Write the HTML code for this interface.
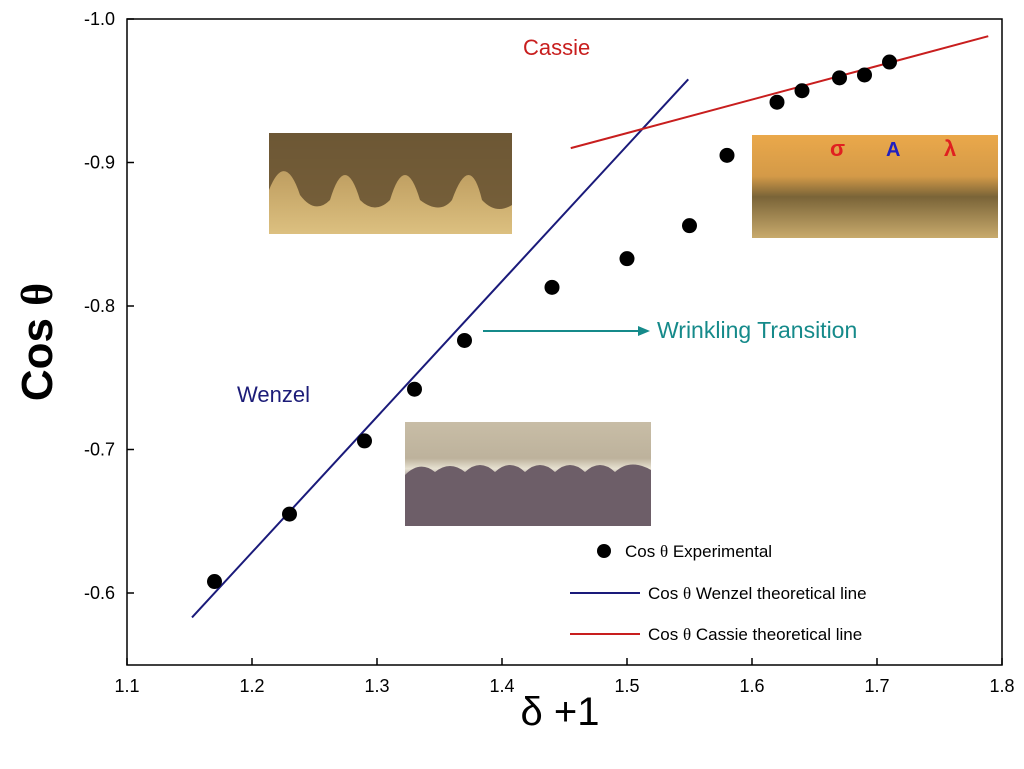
<!DOCTYPE html>
<html><head><meta charset="utf-8"><style>
body{margin:0;background:#fff;width:1024px;height:764px;overflow:hidden}
svg text{font-family:"Liberation Sans",sans-serif}
</style></head><body>
<svg id="chart" width="1024" height="764" xmlns="http://www.w3.org/2000/svg">
<defs>
<linearGradient id="g1" x1="0" y1="0" x2="0" y2="1"><stop offset="0" stop-color="#a88c5a"/><stop offset="0.5" stop-color="#c4a466"/><stop offset="1" stop-color="#dcc080"/></linearGradient>
<linearGradient id="g2" x1="0" y1="0" x2="0" y2="1"><stop offset="0" stop-color="#eaa84a"/><stop offset="0.4" stop-color="#d49a48"/><stop offset="0.6" stop-color="#7a6438"/><stop offset="1" stop-color="#c8aa6c"/></linearGradient>
<linearGradient id="g3" x1="0" y1="0" x2="0" y2="1"><stop offset="0" stop-color="#c8bda6"/><stop offset="0.35" stop-color="#bdb29c"/><stop offset="0.45" stop-color="#e8e2d2"/><stop offset="0.6" stop-color="#6b5a66"/><stop offset="1" stop-color="#8a7a80"/></linearGradient>
</defs>
<g id="axes"></g>
<g id="marks"></g>
<g>
<rect x="269" y="133" width="243" height="101" fill="url(#g1)"/>
<path d="M269,133 H512 V205 Q496,215 482,200 Q470,150 452,200 Q440,215 420,200 Q405,150 390,200 Q375,215 360,200 Q345,150 330,200 Q315,215 300,195 Q285,150 269,190 Z" fill="#5e4a2c" opacity="0.8"/>
</g>
<g>
<rect x="752" y="135" width="246" height="103" fill="url(#g2)"/>
</g>
<g>
<rect x="405" y="422" width="246" height="104" fill="url(#g3)"/>
<path d="M405,475 Q420,460 435,472 Q450,460 465,472 Q480,458 495,472 Q510,458 525,472 Q540,458 555,472 Q570,458 585,472 Q600,458 615,472 Q630,458 651,470 V526 H405 Z" fill="#6d5e68"/>
</g>
<text x="830" y="156" fill="#e02020" font-size="22" font-weight="bold" font-family="Liberation Serif,serif">σ</text>
<text x="886" y="156" fill="#2020c0" font-size="20" font-weight="bold" font-family="Liberation Serif,serif">A</text>
<text x="944" y="156" fill="#e02020" font-size="22" font-weight="bold" font-family="Liberation Serif,serif">λ</text>
<text x="523" y="55" fill="#c81e1e" font-size="22">Cassie</text>
<text x="237" y="402" fill="#1c1c78" font-size="22">Wenzel</text>
<line x1="483" y1="331" x2="640" y2="331" stroke="#158a8a" stroke-width="2"/>
<polygon points="650,331 638,326 638,336" fill="#158a8a"/>
<text x="657" y="338" fill="#158a8a" font-size="23">Wrinkling Transition</text>
<g font-size="17">
<circle cx="604" cy="551" r="7" fill="#000"/>
<text x="625" y="557">Cos <tspan font-family="Liberation Serif,serif">θ</tspan>  Experimental</text>
<line x1="570" y1="593" x2="640" y2="593" stroke="#1a1a7a" stroke-width="2"/>
<text x="648" y="599">Cos <tspan font-family="Liberation Serif,serif">θ</tspan> Wenzel theoretical line</text>
<line x1="570" y1="634" x2="640" y2="634" stroke="#c81e1e" stroke-width="2"/>
<text x="648" y="640">Cos <tspan font-family="Liberation Serif,serif">θ</tspan> Cassie theoretical line</text>
</g>
<text transform="translate(52,342) rotate(-90)" text-anchor="middle" font-size="44" font-weight="bold">Cos <tspan font-family="Liberation Serif,serif">θ</tspan></text>
<text x="560" y="725" text-anchor="middle" font-size="40" font-family="Liberation Serif,serif">δ +1</text>
</svg>
<script>
const xValues=[1.17,1.23,1.29,1.33,1.37,1.44,1.50,1.55,1.58,1.62,1.64,1.67,1.69,1.71];
const yValues=[-0.608,-0.655,-0.706,-0.742,-0.776,-0.813,-0.833,-0.856,-0.905,-0.942,-0.950,-0.959,-0.961,-0.970];
const wenzelX=[1.152,1.549];
const wenzelY=[-0.583,-0.958];
const cassieX=[1.455,1.789];
const cassieY=[-0.910,-0.988];
const xTicks=["1.1","1.2","1.3","1.4","1.5","1.6","1.7","1.8"];
const yTicks=["-0.6","-0.7","-0.8","-0.9","-1.0"];
const L=127,R=1002,T=19,B=665;
const sx=v=>L+(v-1.1)*1250;
const sy=v=>T+(1.0+v)*1435;
const NS="http://www.w3.org/2000/svg";
function mk(tag,attrs,parent){const e=document.createElementNS(NS,tag);for(const k in attrs)e.setAttribute(k,attrs[k]);parent.appendChild(e);return e;}
const ax=document.getElementById('axes'),mg=document.getElementById('marks');
const frame=mk('rect',{x:L,y:T,width:R-L,height:B-T,fill:'none',stroke:'#000','stroke-width':1.5},ax);


xTicks.forEach(t=>{const x=sx(+t);
mk('line',{x1:x,y1:B,x2:x,y2:B-7,stroke:'#000','stroke-width':1.5},ax);
const tx=mk('text',{x:x,y:B+27,'text-anchor':'middle','font-size':18},ax);tx.textContent=t;

});
yTicks.forEach(t=>{const y=sy(+t);
mk('line',{x1:L,y1:y,x2:L+7,y2:y,stroke:'#000','stroke-width':1.5},ax);
const tx=mk('text',{x:L-12,y:y+6,'text-anchor':'end','font-size':18},ax);tx.textContent=t;

});
const wl=mk('line',{x1:sx(wenzelX[0]),y1:sy(wenzelY[0]),x2:sx(wenzelX[1]),y2:sy(wenzelY[1]),stroke:'#1a1a7a','stroke-width':2},mg);


const cl=mk('line',{x1:sx(cassieX[0]),y1:sy(cassieY[0]),x2:sx(cassieX[1]),y2:sy(cassieY[1]),stroke:'#c81e1e','stroke-width':2},mg);


xValues.forEach((v,i)=>{const c=mk('circle',{cx:sx(v),cy:sy(yValues[i]),r:7.5,fill:'#000'},mg);

});
</script>
</body></html>
